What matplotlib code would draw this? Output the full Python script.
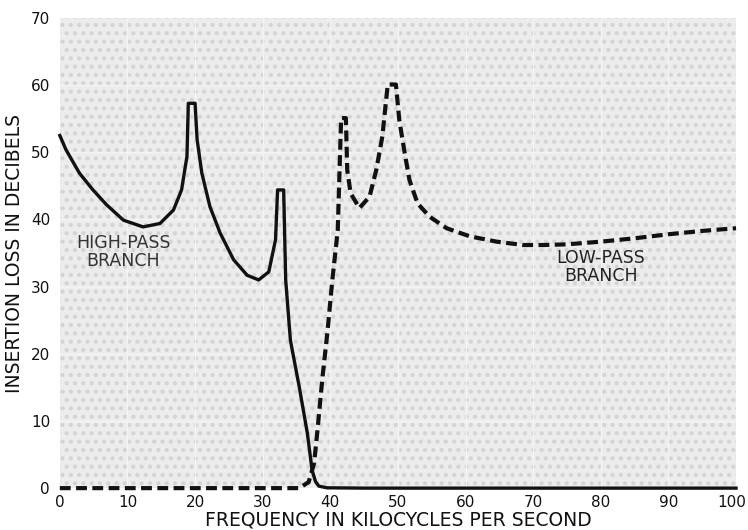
import matplotlib
matplotlib.use('Agg')
import matplotlib.pyplot as plt
from matplotlib.patches import Rectangle
from matplotlib.transforms import ScaledTranslation

# High-pass branch (solid)
hp_x = [0, 0.9, 2.9, 4.9, 6.9, 9.4, 12.3, 14.8, 16.8, 18.0, 18.8, 19.0, 20.0, 20.3,
        21.0, 22.2, 23.7, 25.7, 27.7, 29.4, 30.9, 31.9, 32.2, 33.1, 33.4, 34.1,
        35.4, 36.6, 37.3, 37.8, 38.3, 39.5, 45, 60, 80, 100]
hp_y = [52.5, 50.4, 46.9, 44.4, 42.2, 39.9, 38.9, 39.4, 41.4, 44.4, 49.4, 57.3, 57.3, 51.9,
        46.9, 41.9, 38.0, 34.0, 31.7, 31.0, 32.2, 37.0, 44.4, 44.4, 31.0, 22.0,
        15.1, 8.2, 2.7, 1.0, 0.3, 0.05, 0, 0, 0, 0]

# Low-pass branch (dashed)
lp_x = [0, 10, 20, 30, 35.4, 36.8, 37.6, 38.1, 38.8, 39.6, 40.3, 41.1, 41.6, 42.3,
        42.5, 43.0, 44.3, 45.8, 46.8, 47.7, 48.2, 48.5, 49.7, 50.2, 51.0, 51.7, 52.9,
        54.7, 57.2, 60.6, 64.6, 68.5, 71.5, 75, 80, 85, 90, 95, 100]
lp_y = [0, 0, 0, 0, 0, 0.9, 3.7, 8.6, 16.1, 23.5, 31.0, 38.4, 55.1, 55.1,
        47.4, 43.9, 41.7, 43.4, 47.4, 52.4, 57.3, 60.1, 60.1, 54.8, 49.9, 45.9, 42.4,
        40.4, 38.7, 37.5, 36.7, 36.2, 36.2, 36.3, 36.7, 37.2, 37.8, 38.3, 38.7]

x_ticks = list(range(0, 101, 10))
y_ticks = list(range(0, 71, 10))

plt.rcParams['hatch.linewidth'] = 1.8

fig = plt.figure(figsize=(7.48, 5.30), dpi=100)
ax = fig.add_axes([0.080, 0.079, 0.904, 0.887])

# dotted paper texture with faint grid
ax.set_facecolor('#ececec')
ax.add_patch(Rectangle((0, 0), 1, 1, transform=ax.transAxes, facecolor='#ececec',
                       hatch='..', edgecolor='#d4d4d4', lw=0, zorder=0))
for v in x_ticks[1:-1]:
    ax.axvline(v, color='#f4f4f4', lw=0.9, zorder=1)
for v in y_ticks[1:-1]:
    ax.axhline(v, color='#f4f4f4', lw=0.9, zorder=1)

ax.plot(hp_x, hp_y, color='#111111', lw=2.4, solid_joinstyle='round', clip_on=False, zorder=3)
ax.plot(lp_x, lp_y, color='#111111', lw=3.0, dashes=(2.6, 1.3), clip_on=False, zorder=3)

ax.text(9.4, 35.2, 'HIGH-PASS\nBRANCH', ha='center', va='center', fontsize=12.5,
        color='#333333', linespacing=1.0, zorder=4)
ax.text(80, 33, 'LOW-PASS\nBRANCH', ha='center', va='center', fontsize=12.5,
        color='#222222', linespacing=1.0, zorder=4)

ax.set_xlim(0, 100)
ax.set_ylim(0, 70)
ax.set_xticks(x_ticks)
ax.set_yticks(y_ticks)
ax.tick_params(length=0, labelsize=11, colors='#111111')
ax.tick_params(axis='x', pad=5)
ax.tick_params(axis='y', pad=7)
for s in ax.spines.values():
    s.set_visible(False)
last = ax.get_xticklabels()[-1]
last.set_transform(last.get_transform() + ScaledTranslation(-3 / 72, 0, fig.dpi_scale_trans))

ax.set_xlabel('FREQUENCY IN KILOCYCLES PER SECOND', fontsize=13.5, labelpad=0, color='#111111')
ax.set_ylabel('INSERTION LOSS IN DECIBELS', fontsize=13.5, labelpad=5, color='#111111')

fig.savefig('out.png', dpi=100, facecolor='white')
